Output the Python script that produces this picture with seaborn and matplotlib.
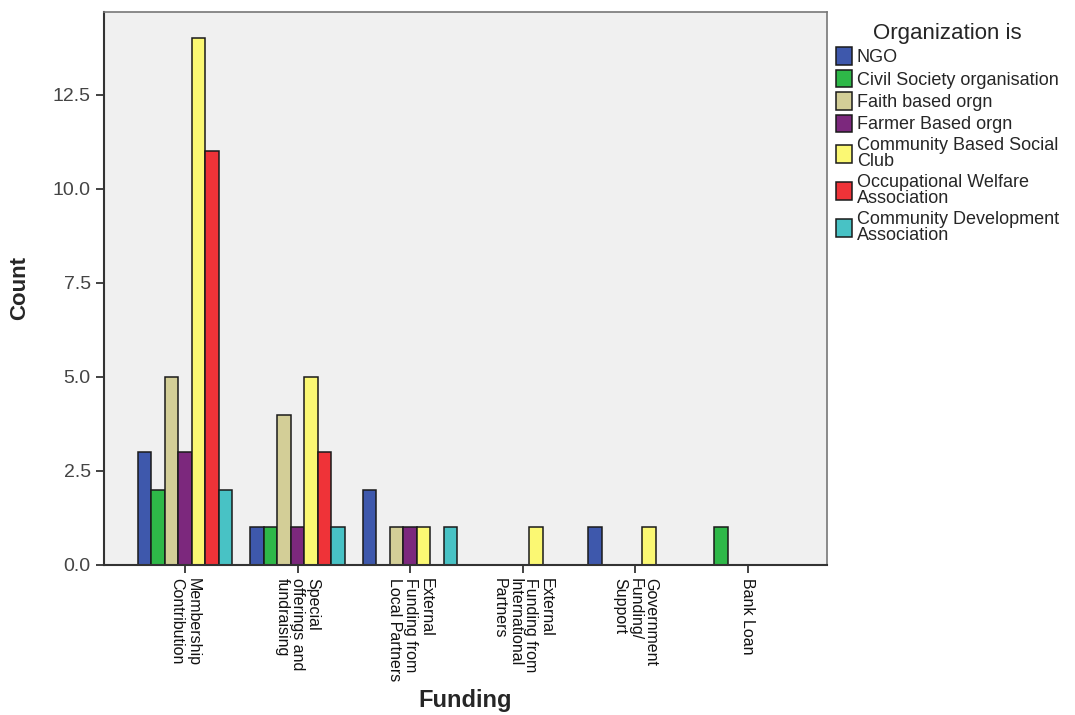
import numpy as np
import matplotlib
matplotlib.use('Agg')
import matplotlib.pyplot as plt
import seaborn as sns
import pandas as pd

# funding sources (x axis), wrapped like the original tick labels
funding = ['Membership\nContribution',
           'Special\nofferings and\nfundraising',
           'External\nFunding from\nLocal Partners',
           'External\nFunding from\nInternational\nPartners',
           'Government\nFunding/\nSupport',
           'Bank Loan']

orgs = ['NGO',
        'Civil Society organisation',
        'Faith based orgn',
        'Farmer Based orgn',
        'Community Based Social\nClub',
        'Occupational Welfare\nAssociation',
        'Community Development\nAssociation']

# counts per org type, one value per funding source
ngo = [3, 1, 2, 0, 1, 0]
cso = [2, 1, 0, 0, 0, 1]
faith = [5, 4, 1, 0, 0, 0]
farmer = [3, 1, 1, 0, 0, 0]
cbsc = [14, 5, 1, 1, 1, 0]
owa = [11, 3, 0, 0, 0, 0]
cda = [2, 1, 1, 0, 0, 0]

colors = ['#3E58AC', '#2EB848', '#D3CE97', '#7C287D', '#FBF873', '#EF3338', '#48C2C5']

counts = [ngo, cso, faith, farmer, cbsc, owa, cda]
rows = []
for org, vals in zip(orgs, counts):
    for f, v in zip(funding, vals):
        rows.append({'Funding': f, 'Organization is': org, 'Count': v})
df = pd.DataFrame(rows)

sns.set_style('white')
plt.rcParams['font.family'] = ['Liberation Sans', 'DejaVu Sans']

fig = plt.figure(figsize=(10.75, 7.15), dpi=100)
ax = fig.add_axes([0.0967, 0.2098, 0.6723, 0.7735])
ax.set_facecolor('#F0F0F0')

sns.barplot(data=df, x='Funding', y='Count', hue='Organization is',
            order=funding, hue_order=orgs, palette=colors,
            width=0.84, edgecolor='#1a1a1a', linewidth=1.1,
            saturation=1, errorbar=None, ax=ax)

ax.set_xlim(-0.72, 5.70)
ax.set_ylim(0, 14.7)
ax.set_yticks(np.arange(0, 13, 2.5))
ax.set_yticklabels([f'{t:.1f}' for t in np.arange(0, 13, 2.5)],
                   fontsize=14, color='#444444')
ax.set_xticks(range(len(funding)))
ax.set_xticklabels(funding, rotation=270, fontsize=11.5, ha='center',
                   va='top', linespacing=1.05, multialignment='left',
                   color='#111111')
ax.tick_params(axis='both', direction='out', length=6, width=1.2,
               color='#222222', bottom=True, left=True)

for side in ['left', 'bottom']:
    ax.spines[side].set_color('#333333')
    ax.spines[side].set_linewidth(1.5)
for side in ['top', 'right']:
    ax.spines[side].set_color('#777777')
    ax.spines[side].set_linewidth(1.2)

ax.set_xlabel('Funding', fontsize=17, fontweight='bold')
ax.xaxis.set_label_coords(0.5, -0.225)
ax.set_ylabel('Count', fontsize=16, fontweight='bold', labelpad=16)

sns.move_legend(ax, 'upper left', bbox_to_anchor=(0.998, 1.0),
                title='Organization is', frameon=False, fontsize=13,
                title_fontsize=16, handlelength=0.9, handleheight=1.1,
                handletextpad=0.25, labelspacing=0.2, borderaxespad=0.2)
leg = ax.get_legend()
for t in leg.get_texts():
    t.set_linespacing(0.95)

fig.savefig('out.png', dpi=100)
